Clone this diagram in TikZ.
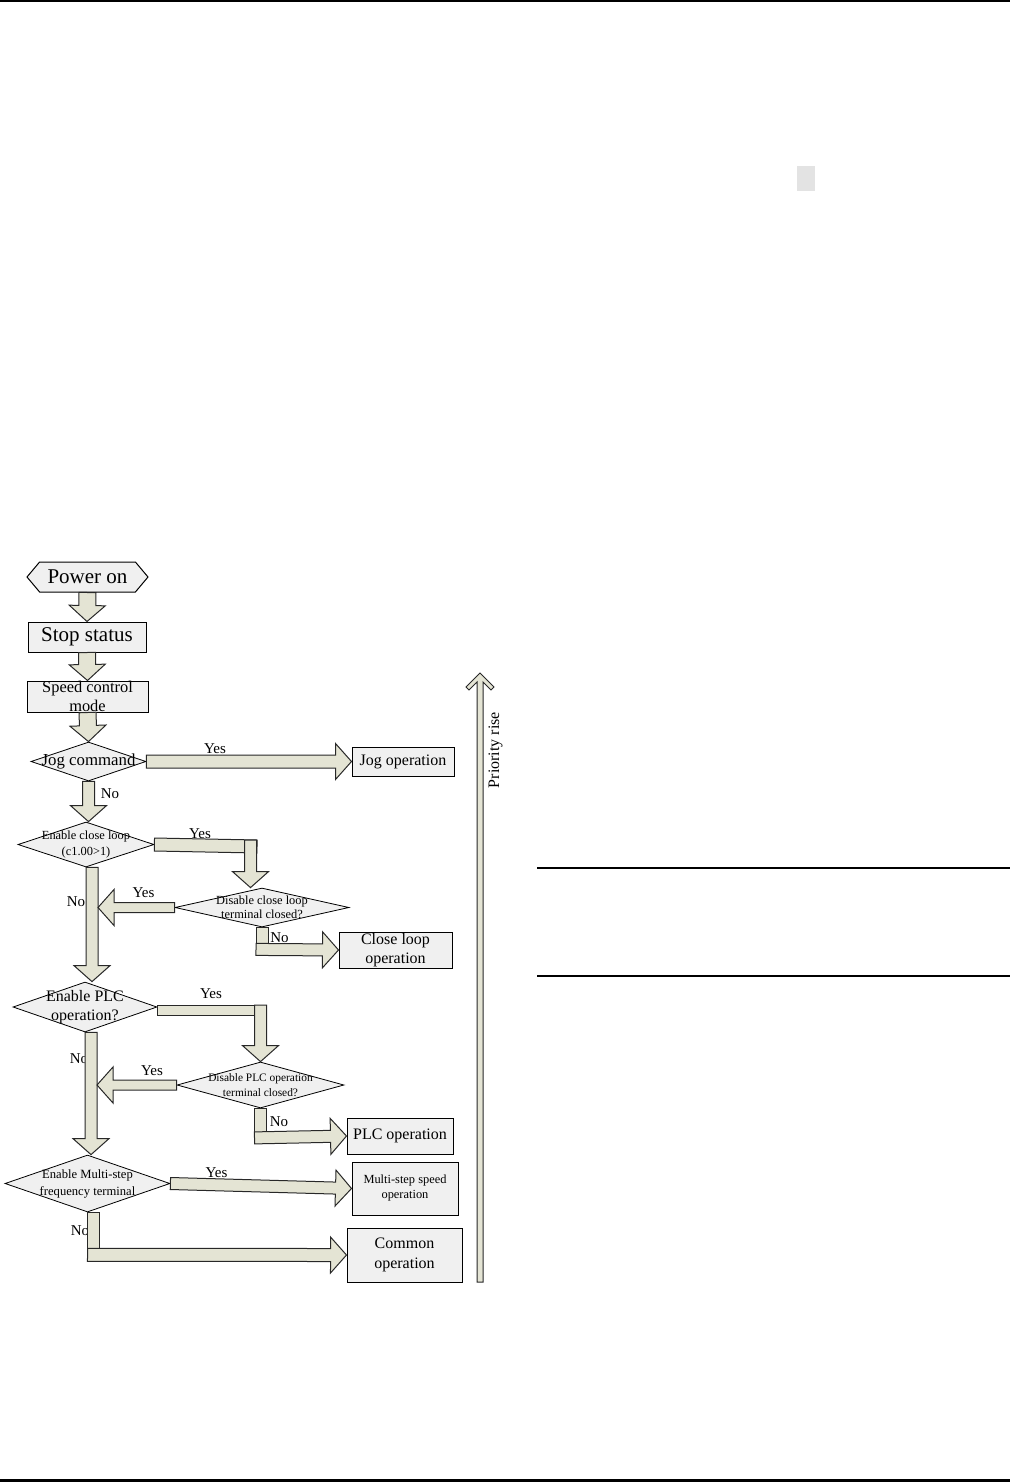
\documentclass[tikz,border=0pt]{standalone}
\usepackage{fontspec}
\setmainfont{Liberation Serif}
\usetikzlibrary{shapes.geometric,shapes.symbols,calc}

\definecolor{arrfill}{RGB}{228,228,212}
\definecolor{boxfill}{RGB}{240,240,240}
\definecolor{edge}{RGB}{40,40,40}

\tikzset{
  barrow/.style={draw=edge,fill=arrfill,line width=0.5pt,line join=miter},
  box/.style={draw=black,fill=boxfill,line width=0.5pt,inner sep=0pt,align=center},
  decide/.style={diamond,draw=black,fill=boxfill,line width=0.4pt,inner sep=0pt},
  qtxt/.style={align=center,inner sep=0pt},
  lbl/.style={font=\fontsize{7.5}{8}\selectfont,inner sep=0pt}
}

% block arrow: [shaft half width]{from}{tip}
\newcommand{\blockarr}[3][3pt]{%
  \coordinate (bh) at ($(#3)!8pt!(#2)$);
  \draw[barrow] ($(#2)!#1!90:(#3)$) -- ($(bh)!#1!90:(#3)$) -- ($(bh)!9pt!90:(#3)$) -- (#3)
    -- ($(bh)!9pt!-90:(#3)$) -- ($(bh)!#1!-90:(#3)$) -- ($(#2)!#1!-90:(#3)$) -- cycle;}
% plain bar: [half width]{from}{to}
\newcommand{\blockbar}[3][3pt]{%
  \draw[barrow] ($(#2)!#1!90:(#3)$) -- ($(#3)!#1!-90:(#2)$) -- ($(#3)!#1!90:(#2)$)
    -- ($(#2)!#1!-90:(#3)$) -- cycle;}

\begin{document}
\begin{tikzpicture}[x=0.5pt,y=-0.5pt]
\useasboundingbox (0,0) rectangle (1010,1482);
% page rules
\fill (0,0) rectangle (1010,2.5);
\fill[gray!22] (797,166) rectangle (815,191);
\draw[line width=1pt] (537,868) -- (1010,868) (537,976) -- (1010,976);
\fill (0,1478.5) rectangle (1010,1482);

% nodes
\node[signal,signal to=east and west,signal pointer angle=100,draw=black,fill=boxfill,
  line width=0.5pt,inner sep=0pt,minimum width=60.5pt,minimum height=15pt,
  font=\fontsize{10.5}{12}\selectfont] (pwr) at (87.5,577) {Power on};
\node[box,minimum width=59pt,minimum height=15pt,font=\fontsize{10.5}{12}\selectfont] (stop) at (87,637) {Stop status};
\node[box,minimum width=60.5pt,minimum height=15.5pt,font=\fontsize{8.2}{9.5}\selectfont] (spd) at (87.5,696.5) {Speed control\\mode};
\node[decide,minimum width=57.5pt,minimum height=19.5pt,
  label={[qtxt,font=\fontsize{8.4}{9}\selectfont]center:Jog command}] (jog) at (88.5,761.5) {};
\node[box,minimum width=51pt,minimum height=14.5pt,font=\fontsize{8}{9}\selectfont] (jogop) at (403,761.5) {Jog operation};
\node[decide,minimum width=68pt,minimum height=22.5pt,
  label={[qtxt,font=\fontsize{6.2}{8}\selectfont]center:{Enable close loop\\(c1.00>1)}}] (ecl) at (86,844.5) {};
\node[decide,minimum width=87pt,minimum height=19.5pt,
  label={[qtxt,font=\fontsize{6.2}{7}\selectfont]center:{Disable close loop\\terminal closed?}}] (dcl) at (262,907.5) {};
\node[box,minimum width=56.5pt,minimum height=18pt,font=\fontsize{8}{9.5}\selectfont] (clop) at (395.5,950) {Close loop\\operation};
\node[decide,minimum width=72pt,minimum height=25pt,
  label={[qtxt,font=\fontsize{8}{9.5}\selectfont]center:{Enable PLC\\operation?}}] (eplc) at (85,1007) {};
\node[decide,minimum width=83.5pt,minimum height=23pt,
  label={[qtxt,font=\fontsize{5.7}{7.5}\selectfont]center:{Disable PLC operation\\terminal closed?}}] (dplc) at (260.5,1085) {};
\node[box,minimum width=53pt,minimum height=18pt,font=\fontsize{8}{9}\selectfont] (plcop) at (400,1136) {PLC operation};
\node[decide,minimum width=82.5pt,minimum height=28.5pt,
  label={[qtxt,font=\fontsize{6.3}{8.5}\selectfont]center:{Enable Multi-step\\frequency terminal}}] (ems) at (87.5,1183.5) {};
\node[box,minimum width=53pt,minimum height=26.5pt,font=\fontsize{6.2}{7.5}\selectfont] (msop) at (405,1188.5) {Multi-step speed\\operation};
\node[box,minimum width=57.5pt,minimum height=27pt,font=\fontsize{8}{10}\selectfont] (comop) at (404.5,1255) {Common\\operation};
\node[rotate=90,inner sep=0pt,font=\fontsize{8}{9}\selectfont] (prio) at (495.5,750) {Priority rise};

% yes / no
\node[lbl] (yj) at (215,748.5) {Yes};
\node[lbl] (nj) at (110,794) {No};
\node[lbl] (ye) at (200,833.5) {Yes};
\node[lbl] (yd) at (143.5,893) {Yes};
\node[lbl] (ne) at (76,902) {No};
\node[lbl] (nd) at (279.5,938) {No};
\node[lbl] (yp) at (211,994) {Yes};
\node[lbl] (np) at (79,1059) {No};
\node[lbl] (ydp) at (152,1070.5) {Yes};
\node[lbl] (ndp) at (279,1122) {No};
\node[lbl] (yms) at (216.5,1173) {Yes};
\node[lbl] (nms) at (80,1231) {No};

% helper points
\coordinate (j1) at (jog.south |- ecl.north);
\coordinate (c1) at (257,846.5);
\coordinate (c2) at (250.5,840);
\coordinate (c3) at (c2 |- dcl.north);
\coordinate (m1) at ($(ecl.south)+(6,0)$);
\coordinate (m2) at (m1 |- eplc.north);
\coordinate (y2) at ($(m1 |- dcl.west)+(6,0)$);
\coordinate (d2) at ($(dcl.south)+(0,28)$);
\coordinate (d3) at ($(d2)+(-6,-6)$);
\coordinate (p1) at ($(eplc.east)+(0,3)$);
\coordinate (p2) at ($(dplc.north |- p1)+(6,0)$);
\coordinate (p3) at ($(dplc.north |- p1)+(0,-5)$);
\coordinate (m3) at ($(eplc.south)+(6,0)$);
\coordinate (m4) at (m3 |- ems.north);
\coordinate (y4) at ($(m3 |- dplc.west)+(6,0)$);
\coordinate (e1) at ($(dplc.south)+(0,35)$);
\coordinate (e2) at ($(e1)+(-6,-5.5)$);
\coordinate (m5) at ($(ems.south)+(6,0)$);
\coordinate (m6) at ($(m5)+(0,49)$);
\coordinate (m7) at ($(m6)+(-6,-6.5)$);

% block arrows
\blockarr[4.25pt]{pwr.south}{stop.north}
\blockarr[4.25pt]{stop.south}{spd.north}
\blockarr[4.25pt]{spd.south}{jog.north}
\blockarr[3.25pt]{jog.east}{jogop.west}
\blockarr{jog.south}{j1}
\blockbar[3.25pt]{ecl.east}{c1}
\blockarr{c2}{c3}
\blockarr{m1}{m2}
\blockarr[2.5pt]{dcl.west}{y2}
\blockbar{dcl.south}{d2}
\blockarr{d3}{clop.west}
\blockbar[2.5pt]{p1}{p2}
\blockarr{p3}{dplc.north}
\blockarr{m3}{m4}
\blockarr[2.5pt]{dplc.west}{y4}
\blockbar{dplc.south}{e1}
\blockarr{e2}{plcop.west}
\blockarr{ems.east}{msop.west}
\blockbar{m5}{m6}
\blockarr[3.25pt]{m7}{comop.west}

% priority rise
\draw[barrow] (477,1282) -- (477,682) -- (469,690) -- (466,687) -- (480,673) -- (494,687)
  -- (491,690) -- (483,682) -- (483,1282) -- cycle;
\end{tikzpicture}
\end{document}
